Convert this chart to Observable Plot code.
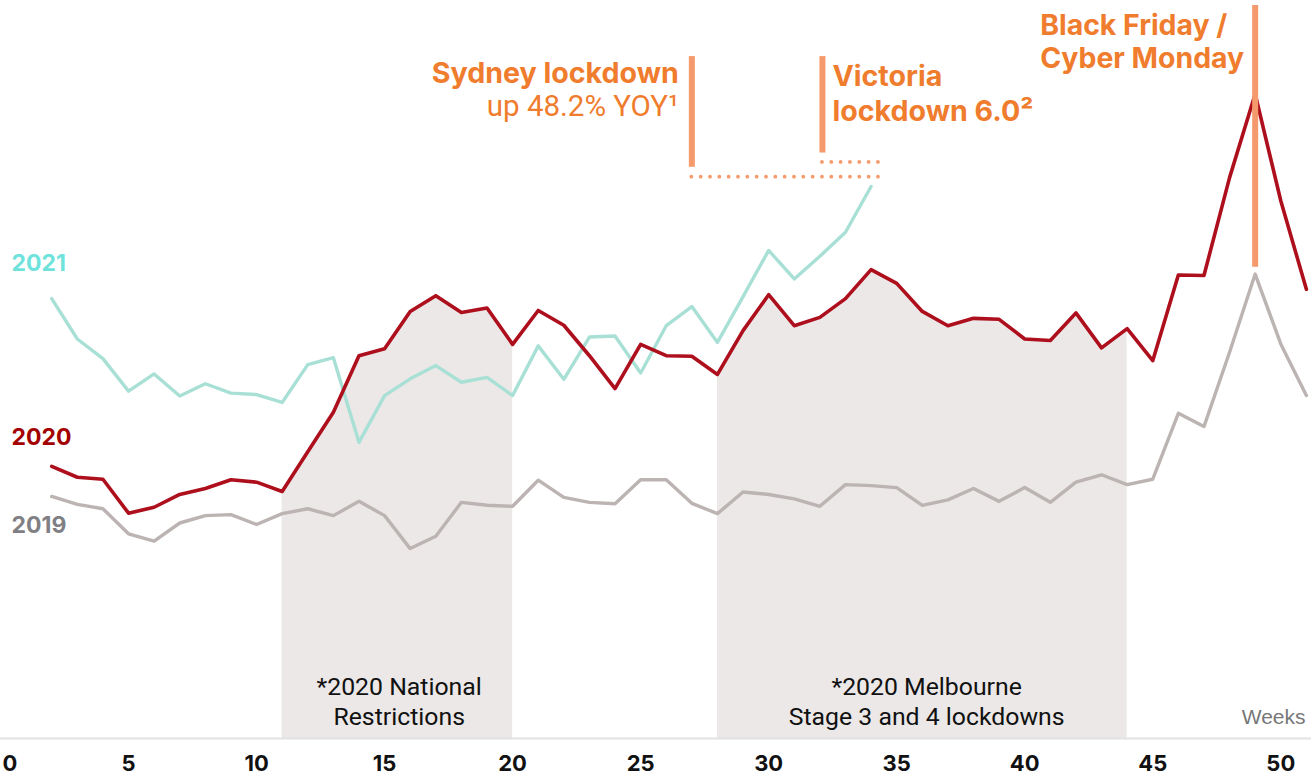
<!DOCTYPE html>
<html>
<head>
<meta charset="utf-8">
<script src="https://cdn.jsdelivr.net/npm/d3@7"></script>
<script src="https://cdn.jsdelivr.net/npm/@observablehq/plot@0.6"></script>
<style>
  html, body { margin: 0; padding: 0; background: #ffffff; }
  #chart svg { display: block; }
</style>
</head>
<body>
<div id="chart"></div>
<script>
// ---- Data (index values) ----
const weeksFull = d3.range(2, 52);   // weeks 2..51
const weeks2021 = d3.range(2, 35);   // weeks 2..34

const values2019 = [49.2,47.6,46.7,41.6,40.1,43.8,45.3,45.5,43.5,45.7,
                    46.7,45.3,48.2,45.3,38.6,41.1,48.0,47.4,47.2,52.5,
                    49.0,48.0,47.7,52.6,52.6,47.8,45.7,50.1,49.6,48.7,
                    47.2,51.6,51.4,51.0,47.4,48.5,50.8,48.2,51.0,48.0,
                    52.1,53.6,51.6,52.7,66.1,63.4,78.5,94.4,80.2,69.7];

const values2020 = [55.3,53.1,52.7,45.8,47.0,49.6,50.8,52.6,52.1,50.2,
                    58.3,66.3,77.8,79.2,86.8,90.0,86.6,87.5,80.1,87.0,
                    84.0,77.8,71.1,80.1,77.8,77.7,74.0,82.9,90.2,83.9,
                    85.6,89.4,95.3,92.5,86.8,83.9,85.4,85.2,81.2,80.9,
                    86.5,79.4,83.3,76.8,94.2,94.1,114.0,131.0,109.3,91.3];

const values2021 = [89.4,81.2,77.2,70.6,74.1,69.6,72.1,70.2,69.9,68.3,
                    76.0,77.4,60.2,69.7,73.1,75.8,72.4,73.4,69.7,79.8,
                    73.0,81.6,81.8,74.3,83.9,87.8,80.5,89.8,99.2,93.4,
                    98.0,102.9,112.2];

const tickWeeks = [0, 5, 10, 15, 20, 25, 30, 35, 40, 45, 50];

// 2020 restriction periods (weeks)
const periodNames = ["national", "melbourne"];
const periodStart = [11, 28];
const periodEnd = [20, 44];
const periodLabelWeek = [15.57, 36.17];
const periodLabels = ["*2020 National\nRestrictions", "*2020 Melbourne\nStage 3 and 4 lockdowns"];

// Event markers
const eventNames = ["Sydney", "Victoria", "BlackFriday"];
const eventWeeks = [27, 32.1, 49];
const eventLow = [116.1, 119.0, 95.8];
const eventHigh = [138.6, 138.6, 149.0];

// ---- Build tables ----
const s2019 = weeksFull.map((w, i) => ({week: w, value: values2019[i], year: "2019"}));
const s2020 = weeksFull.map((w, i) => ({week: w, value: values2020[i], year: "2020"}));
const s2021 = weeks2021.map((w, i) => ({week: w, value: values2021[i], year: "2021"}));

const shaded = periodNames.flatMap((p, j) =>
  s2020.filter(d => d.week >= periodStart[j] && d.week <= periodEnd[j]).map(d => ({...d, period: p})));

const periods = periodNames.map((p, j) => ({
  period: p, mid: periodLabelWeek[j], label: periodLabels[j]
}));

const events = eventNames.map((n, i) => ({name: n, week: eventWeeks[i], lo: eventLow[i], hi: eventHigh[i]}));

const dotted = [
  {from: eventWeeks[0], to: 34.35, level: 114.2},
  {from: eventWeeks[1], to: 34.35, level: 117.2}
];

const seriesLabels = [
  {text: "2021", value: 95.1, color: "#6fe2dc"},
  {text: "2020", value: 59.6, color: "#a30000"},
  {text: "2019", value: 41.7, color: "#7f7f84"}
];

const orange = "#f07c2e";
const orangeLight = "#f59a6c";

const boldFont = "Inter, 'Liberation Sans', sans-serif";

const chart = Plot.plot({
  width: 1311,
  height: 775,
  marginLeft: 0,
  marginRight: 0,
  marginTop: 0,
  marginBottom: 37,
  x: {domain: [0, 51.2], axis: null},
  y: {domain: [0, 150], axis: null},
  style: {background: "#ffffff", overflow: "visible"},
  marks: [
    // shaded restriction periods under the 2020 line
    Plot.areaY(shaded, {x: "week", y: "value", z: "period", fill: "#ebe8e7", curve: "linear"}),
    // baseline
    Plot.ruleY([0], {stroke: "#e2e2e2", strokeWidth: 2}),
    // region labels
    Plot.text(periods, {
      x: "mid", text: "label", frameAnchor: "bottom", lineAnchor: "bottom",
      dy: -14, lineHeight: 1.17, fontSize: 24.8, fill: "#111", fontFamily: "Roboto, sans-serif"
    }),
    // lines
    Plot.line(s2019, {x: "week", y: "value", stroke: "#bcb4b2", strokeWidth: 3.4}),
    Plot.line(s2021, {x: "week", y: "value", stroke: "#a9e0d6", strokeWidth: 3.4}),
    Plot.line(s2020, {x: "week", y: "value", stroke: "#ae0f1d", strokeWidth: 3.6}),
    // dotted connectors
    Plot.ruleY(dotted, {
      y: "level", x1: "from", x2: "to", stroke: orangeLight, strokeWidth: 3.8,
      strokeDasharray: "0 9.33", strokeLinecap: "round"
    }),
    // event bars
    Plot.ruleX(events, {x: "week", y1: "lo", y2: "hi", stroke: orangeLight, strokeWidth: 6}),
    // annotations
    Plot.text(["Sydney lockdown"], {
      x: eventWeeks[0], y: 133.3, text: d => d, textAnchor: "end", lineAnchor: "bottom", dx: -13,
      fontSize: 28.6, fontWeight: "bold", fill: orange, fontFamily: boldFont
    }),
    Plot.text(["up 48.2% YOY\u00B9"], {
      x: eventWeeks[0], y: 126.6, text: d => d, textAnchor: "end", lineAnchor: "bottom", dx: -13,
      fontSize: 29.5, fill: orange, fontFamily: "Roboto, sans-serif"
    }),
    Plot.text(["Victoria", "lockdown 6.0\u00B2"], {
      x: eventWeeks[1], y: [132.7, 125.6], text: d => d, textAnchor: "start", lineAnchor: "bottom", dx: 10,
      fontSize: 28.6, fontWeight: "bold", fill: orange, fontFamily: boldFont
    }),
    Plot.text(["Black Friday /", "Cyber Monday"], {
      x: eventWeeks[2], y: [142.9, 136.2], text: d => d, textAnchor: "start", lineAnchor: "bottom", dx: -215,
      fontSize: 28.4, fontWeight: "bold", fill: orange, fontFamily: boldFont
    }),
    // series labels
    Plot.text(seriesLabels, {
      x: 0, y: "value", text: "text", fill: "color", textAnchor: "start", lineAnchor: "bottom", dx: 11,
      fontSize: 23, fontWeight: "bold", fontFamily: boldFont
    }),
    // x tick labels
    Plot.text(tickWeeks.filter(d => d > 0), {
      x: d => d, text: d => String(d), frameAnchor: "bottom", lineAnchor: "bottom", dy: 32,
      textAnchor: "middle",
      fontSize: 22, fontWeight: "bold", fill: "#111", fontFamily: boldFont
    }),
    Plot.text(tickWeeks.filter(d => d === 0), {
      x: d => d, text: d => String(d), frameAnchor: "bottom", lineAnchor: "bottom", dy: 32, dx: 2,
      textAnchor: "start",
      fontSize: 22, fontWeight: "bold", fill: "#111", fontFamily: boldFont
    }),
    // axis title
    Plot.text(["Weeks"], {
      frameAnchor: "bottom-right", text: d => d, textAnchor: "end", lineAnchor: "bottom",
      dx: -6, dy: -15, fontSize: 21, fill: "#777", fontFamily: "'Liberation Sans', Arial, sans-serif"
    })
  ]
});

document.getElementById("chart").appendChild(chart);
</script>
</body>
</html>
